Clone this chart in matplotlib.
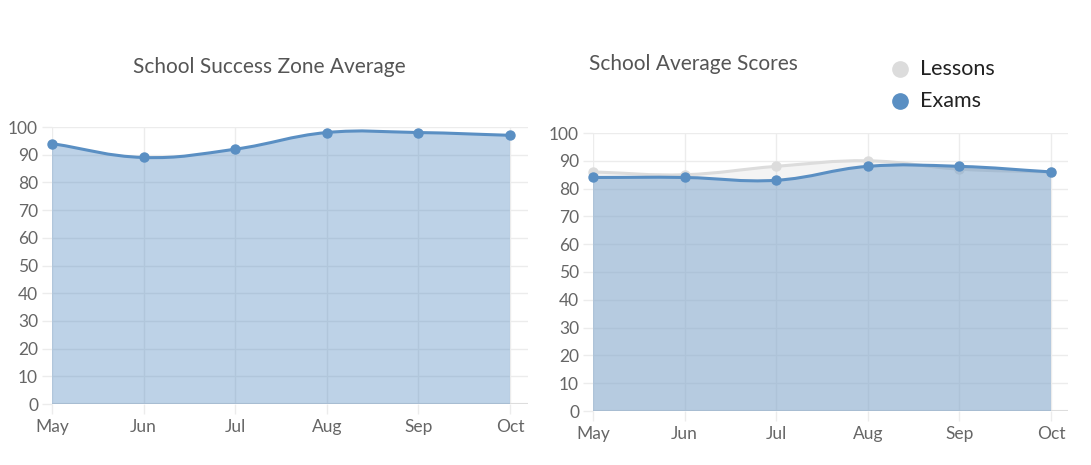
import matplotlib
matplotlib.use('Agg')

import matplotlib.pyplot as plt
from matplotlib.path import Path
from matplotlib.patches import PathPatch
from matplotlib.lines import Line2D
import numpy as np

months = ['May', 'Jun', 'Jul', 'Aug', 'Sep', 'Oct']
success_zone = [94, 89, 92, 98, 98, 97]
lessons = [86, 85, 88, 90, 87, 86]
exams = [84, 84, 83, 88, 88, 86]

blue = '#5a8fc3'
grey_line = '#dcdcdc'
grid_col = '#ececec'

plt.rcParams['font.family'] = ['Lato', 'DejaVu Sans']

W, H = 1091, 465


def ax_rect(x0, x1, y_top, y_bot):
    return [x0 / W, (H - y_bot) / H, (x1 - x0) / W, (y_bot - y_top) / H]


def smooth_path(ax, xs, ys, tension=0.4, closed_to_zero=False):
    # chart.js style bezier, control points worked out in pixel space
    pts = ax.transData.transform(np.column_stack([xs, ys]))
    n = len(pts)
    verts = [pts[0]]
    codes = [Path.MOVETO]
    cps = []
    for i in range(n):
        prev = pts[max(i - 1, 0)]
        cur = pts[i]
        nxt = pts[min(i + 1, n - 1)]
        d01 = np.hypot(*(cur - prev))
        d12 = np.hypot(*(nxt - cur))
        tot = d01 + d12 if d01 + d12 > 0 else 1
        fa = tension * d01 / tot
        fb = tension * d12 / tot
        cps.append((cur - fa * (nxt - prev), cur + fb * (nxt - prev)))
    for i in range(1, n):
        verts += [cps[i - 1][1], cps[i][0], pts[i]]
        codes += [Path.CURVE4] * 3
    if closed_to_zero:
        base_r = ax.transData.transform((xs[-1], 0))
        base_l = ax.transData.transform((xs[0], 0))
        verts += [base_r, base_l, pts[0]]
        codes += [Path.LINETO, Path.LINETO, Path.CLOSEPOLY]
    return Path(verts, codes)


def setup(ax, xmax):
    ax.set_xlim(0, xmax)
    ax.set_ylim(0, 100)
    ax.set_xticks(range(len(months)))
    ax.set_xticklabels(months)
    ax.set_yticks(range(0, 101, 10))
    for s in ax.spines.values():
        s.set_visible(False)
    ax.grid(True, color=grid_col, linewidth=1)
    ax.set_axisbelow(True)
    ax.tick_params(axis='both', colors=grid_col, labelcolor='#666666',
                   labelsize=12.5, length=7, width=1)
    ax.tick_params(axis='x', pad=4)
    ax.tick_params(axis='y', pad=3)
    ax.axhline(0, color='#dddddd', linewidth=1.5, zorder=1)


def draw_series(ax, vals, line_col, fill_col, z):
    xs = np.arange(len(vals))
    fill = smooth_path(ax, xs, vals, closed_to_zero=True)
    ax.add_patch(PathPatch(fill, transform=None, facecolor=fill_col,
                           edgecolor='none', zorder=z))
    line = smooth_path(ax, xs, vals)
    ax.add_patch(PathPatch(line, transform=None, facecolor='none',
                           edgecolor=line_col, linewidth=2.2, zorder=z + 0.5))
    ax.scatter(xs, vals, s=42, color=line_col, zorder=z + 0.6, clip_on=False)


fig = plt.figure(figsize=(W / 100, H / 100), dpi=100)

ax1 = fig.add_axes(ax_rect(52, 528, 127, 404))
setup(ax1, 5 * (528 - 52) / (510 - 52))
ax2 = fig.add_axes(ax_rect(593, 1068, 133, 411))
setup(ax2, 5 * (1068 - 593) / (1051 - 593))

draw_series(ax1, success_zone, blue, (0.353, 0.561, 0.765, 0.40), 2)
draw_series(ax2, lessons, grey_line, (0.86, 0.86, 0.86, 0.30), 2)
draw_series(ax2, exams, blue, (0.353, 0.561, 0.765, 0.40), 3)

fig.text(269 / W, 1 - 67 / H, 'School Success Zone Average', ha='center',
         va='center', fontsize=15, color='#555555')
fig.text(589 / W, 1 - 64 / H, 'School Average Scores', ha='left',
         va='center', fontsize=15, color='#555555')

leg_items = [('Lessons', grey_line, 69), ('Exams', blue, 101)]
for name, col, y in leg_items:
    fig.add_artist(Line2D([900 / W], [1 - y / H], transform=fig.transFigure,
                          marker='o', markersize=11, color=col, linestyle='none'))
    fig.text(920 / W, 1 - y / H, name, ha='left', va='center',
             fontsize=15.5, color='#222222')

fig.savefig('out.png', dpi=100)
